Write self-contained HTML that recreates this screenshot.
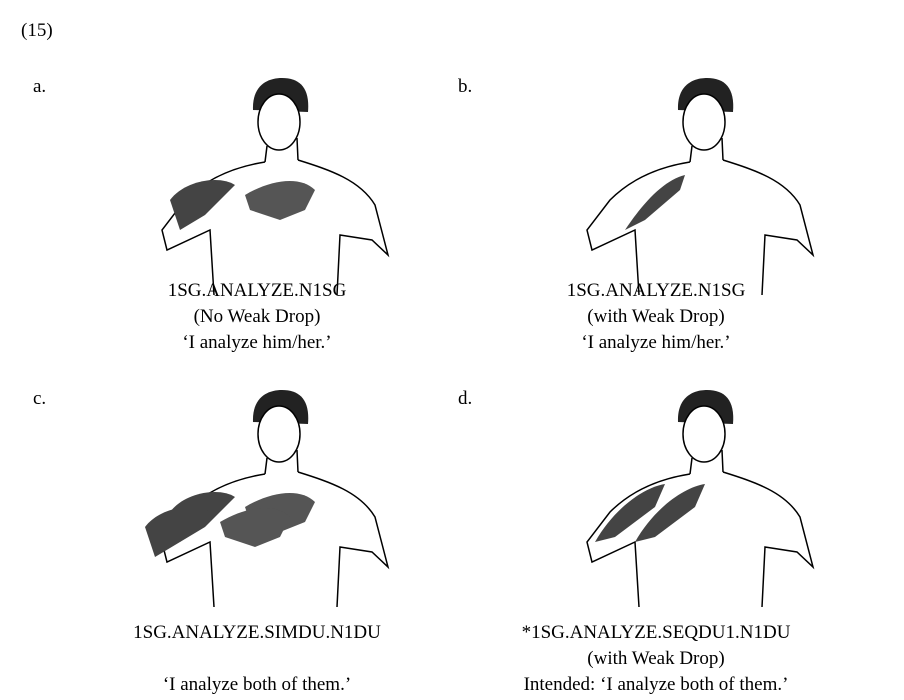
<!DOCTYPE html>
<html><head><meta charset="utf-8"><style>
body{margin:0;background:#fff;width:904px;height:700px;position:relative;overflow:hidden;font-family:"Liberation Serif",serif;color:#000}
.t{position:absolute;font-size:19px;white-space:nowrap}
.c{position:absolute;font-size:19px;text-align:center;width:400px;line-height:26px}
svg{position:absolute;left:0;top:0}
</style></head><body>
<svg width="904" height="700">
<defs>
<g id="fig">
<path d="M-27,30 C-28,5 -12,-2 2,-2 C20,-2 30,8 28,32 Z" fill="#222"/>
<ellipse cx="-1" cy="42" rx="21" ry="28" fill="#fff" stroke="#000" stroke-width="1.5"/>
<path d="M-13,66 L-15,82 M17,58 L18,80" stroke="#000" stroke-width="1.5" fill="none"/>
<path d="M-15,82 C-40,86 -70,95 -95,120 L-118,150 L-113,170 L-70,150 L-66,215" stroke="#000" stroke-width="1.5" fill="none"/>
<path d="M18,80 C50,90 80,100 95,125 L108,175 L92,160 L60,155 L57,215" stroke="#000" stroke-width="1.5" fill="none"/>
</g>
<g id="hands">
<path d="M-110,120 C-95,100 -60,95 -45,105 L-55,115 L-75,135 L-100,150 Z" fill="#444"/>
<path d="M-35,115 C-10,100 20,95 35,110 L25,130 L0,140 L-30,130 Z" fill="#555"/>
</g>
</defs>
<g transform="translate(280,80)"><use href="#fig"/><use href="#hands"/></g>
<g transform="translate(705,80)"><use href="#fig"/><path d="M-80,150 C-60,120 -40,100 -20,95 L-25,110 L-60,140 Z" fill="#444"/></g>
<g transform="translate(280,392)"><use href="#fig"/><use href="#hands"/><g transform="translate(-25,15)"><use href="#hands"/></g></g>
<g transform="translate(705,392)"><use href="#fig"/><path d="M-110,150 C-90,115 -60,95 -40,92 L-50,115 L-90,145 Z M-70,150 C-50,115 -20,95 0,92 L-10,115 L-50,145 Z" fill="#444"/></g>
</svg>
<div class="t" style="left:21px;top:20px">(15)</div>
<div class="t" style="left:33px;top:76px">a.</div>
<div class="t" style="left:458px;top:76px">b.</div>
<div class="t" style="left:33px;top:388px">c.</div>
<div class="t" style="left:458px;top:388px">d.</div>
<div class="c" style="left:57px;top:278px">1SG.ANALYZE.N1SG<br>(No Weak Drop)<br>‘I analyze him/her.’</div>
<div class="c" style="left:456px;top:278px">1SG.ANALYZE.N1SG<br>(with Weak Drop)<br>‘I analyze him/her.’</div>
<div class="c" style="left:57px;top:620px">1SG.ANALYZE.SIMDU.N1DU<br>&nbsp;<br>‘I analyze both of them.’</div>
<div class="c" style="left:456px;top:620px">*1SG.ANALYZE.SEQDU1.N1DU<br>(with Weak Drop)<br>Intended: ‘I analyze both of them.’</div>
</body></html>
